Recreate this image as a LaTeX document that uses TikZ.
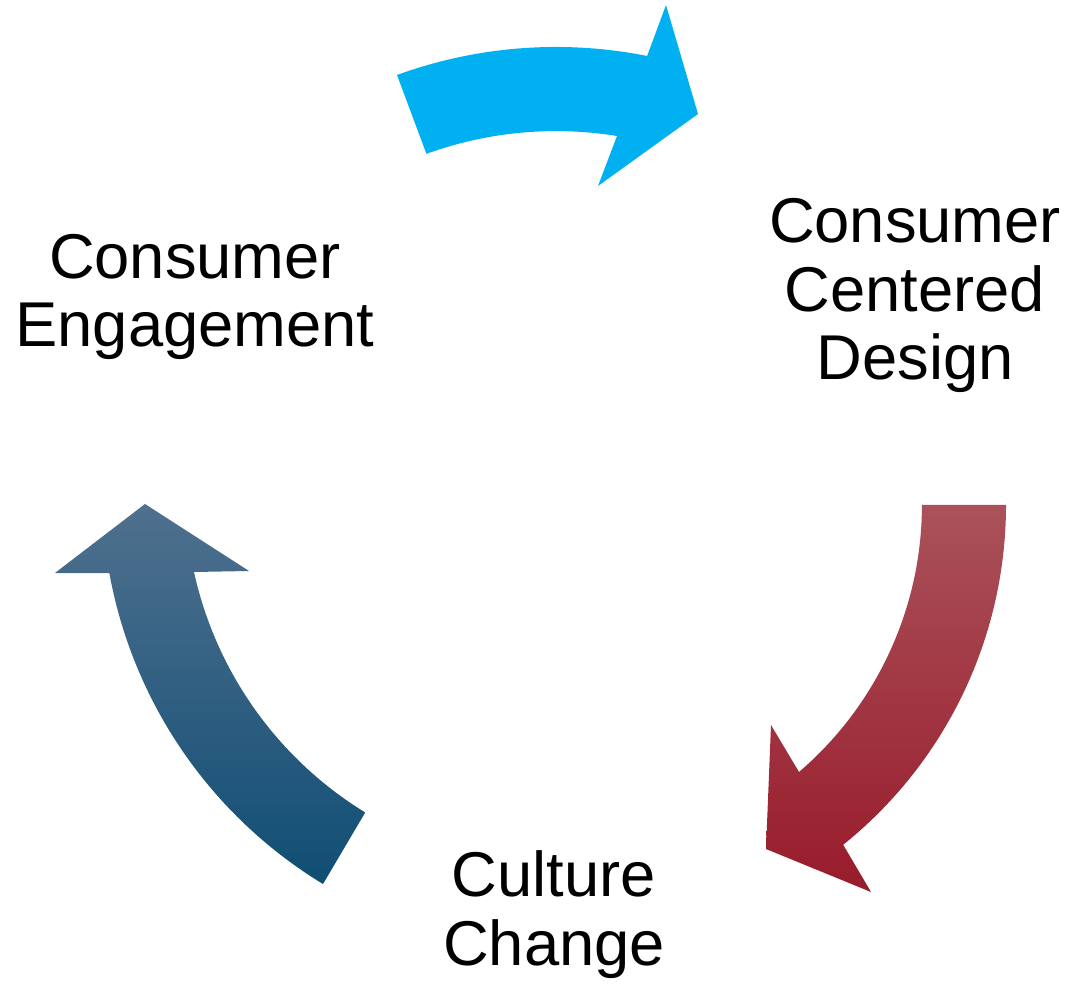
\documentclass[tikz,border=0pt]{standalone}
\usepackage{fontspec}
\setmainfont{Liberation Sans}
\definecolor{cyclecyan}{RGB}{0,176,240}
\definecolor{redtop}{RGB}{170,82,90}
\definecolor{redmid}{RGB}{163,33,48}
\definecolor{redbot}{RGB}{152,27,43}
\definecolor{bluetop}{RGB}{80,112,142}
\definecolor{bluemid}{RGB}{22,88,128}
\definecolor{bluebot}{RGB}{16,78,116}
\begin{document}
\begin{tikzpicture}[x=1pt,y=1pt,
  stagelabel/.style={align=center, inner sep=0pt, anchor=base,
    font=\fontsize{63.3}{68.5}\selectfont},
  cyanarrow/.style={fill=cyclecyan},
  redarrow/.style={top color=redtop, middle color=redmid, bottom color=redbot},
  bluearrow/.style={top color=bluetop, middle color=bluemid, bottom color=bluebot}]
\useasboundingbox (0,0) rectangle (1071,983);

% stage labels (anchored at the baseline of their last line)
\node[stagelabel] (engagement) at (195,636) {Consumer\\Engagement};
\node[stagelabel] (design) at (915,603) {Consumer\\Centered\\Design};
\node[stagelabel] (culture) at (554,18) {Culture\\Change};

% curved block arrows running clockwise between the stages
\fill[cyanarrow] (397,908) arc[start angle=110, end angle=78.7, radius=465]
  -- (666,978) -- (698,869) -- (598,797) -- (617,847)
  arc[start angle=80.8, end angle=109.9, radius=381] -- cycle;

\shade[redarrow] (1006,478) arc[start angle=0, end angle=-51.2, radius=436]
  -- (871,91) -- (766,134) -- (771,258) -- (799,211)
  arc[start angle=-49.4, end angle=0, radius=352] -- cycle;

\shade[bluearrow] (323,99) arc[start angle=238.7, end angle=190.3, radius=460]
  -- (55,410) -- (145,479) -- (249,412) -- (194,411)
  arc[start angle=192.4, end angle=238.5, radius=377] -- cycle;
\end{tikzpicture}
\end{document}
